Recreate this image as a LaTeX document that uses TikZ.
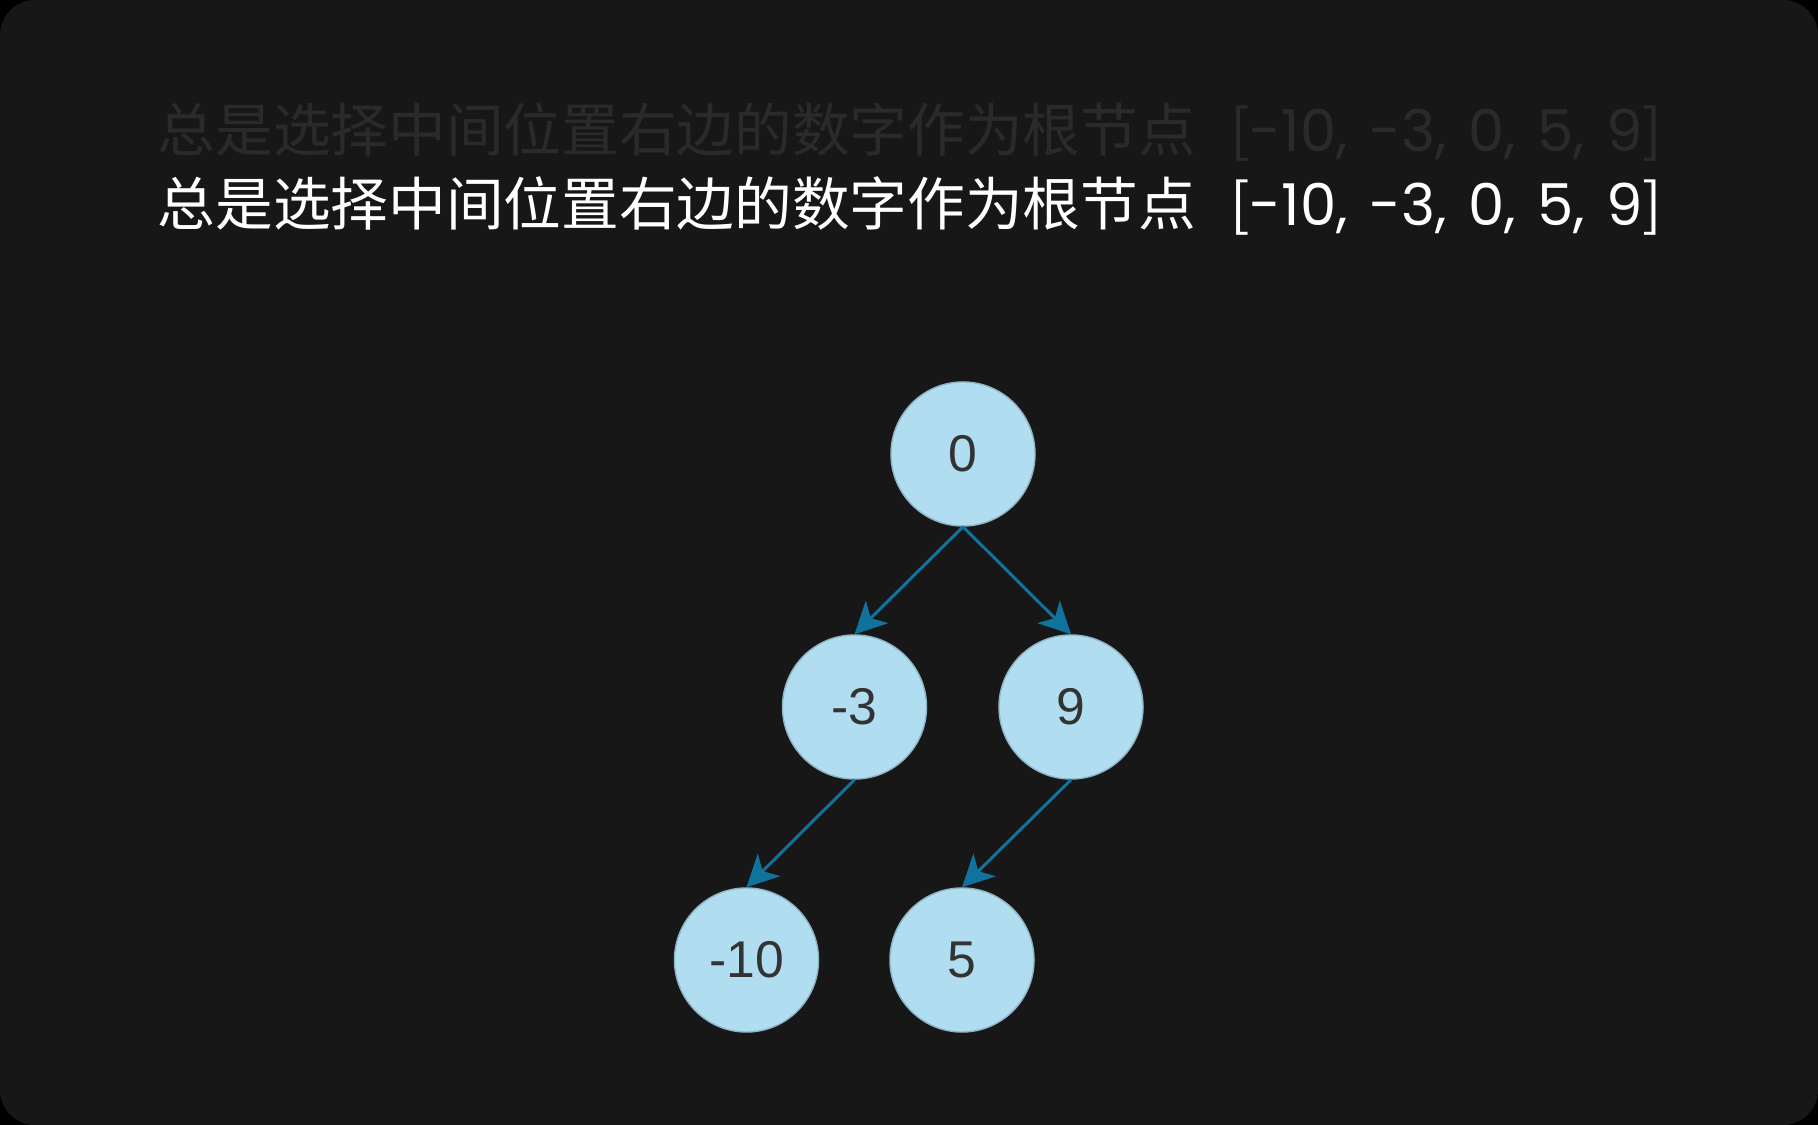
\documentclass[tikz,border=0pt]{standalone}
\usepackage{fontspec}
\setmainfont{Liberation Sans}
\newfontfamily\cjk{Noto Sans CJK SC}
\newfontfamily\numfont[WordSpace=1.4]{Poppins}
\usetikzlibrary{arrows.meta}
\definecolor{bgc}{HTML}{171717}
\definecolor{ghost}{HTML}{2A2A2A}
\definecolor{nodefill}{HTML}{B1DDF0}
\definecolor{nodeline}{HTML}{8FB4C6}
\definecolor{edgec}{HTML}{10739E}
\definecolor{numc}{HTML}{333333}
\newcommand{\arr}{{\cjk[}{\numfont-10, -3, 0, 5, 9}{\cjk]}}
\begin{document}
\begin{tikzpicture}[x=0.01cm,y=-0.01cm,
  treenode/.style={circle,fill=nodefill,draw=nodeline,line width=0.4pt,minimum size=1.44cm,inner sep=0pt,text=numc,font=\fontsize{14.7pt}{16pt}\selectfont},
  edge/.style={draw=edgec,line width=0.85pt,-{Stealth[length=9pt,width=9pt,inset=2.5pt]}},
  title/.style={anchor=west,inner sep=0pt,font=\cjk\fontsize{16.4pt}{19pt}\selectfont}]
\fill[black] (0,0) rectangle (1818,1125);
\fill[bgc,rounded corners=0.35cm] (0,0) rectangle (1818,1125);
\useasboundingbox (0,0) rectangle (1818,1125);
\node[title,text=ghost] (ghosttitle) at (157,132) {总是选择中间位置右边的数字作为根节点\hspace{0.6em}\arr};
\node[title,text=white] (maintitle) at (157,206) {总是选择中间位置右边的数字作为根节点\hspace{0.6em}\arr};
\node[treenode] (n0) at (963,454) {0};
\node[treenode] (nm3) at (854.5,707) {-3};
\node[treenode] (n9) at (1071,707) {9};
\node[treenode] (nm10) at (746.5,960) {-10};
\node[treenode] (n5) at (962,960) {5};
\draw[edge] (n0.south) -- (nm3.north);
\draw[edge] (n0.south) -- (n9.north);
\draw[edge] (nm3.south) -- (nm10.north);
\draw[edge] (n9.south) -- (n5.north);
\end{tikzpicture}
\end{document}
